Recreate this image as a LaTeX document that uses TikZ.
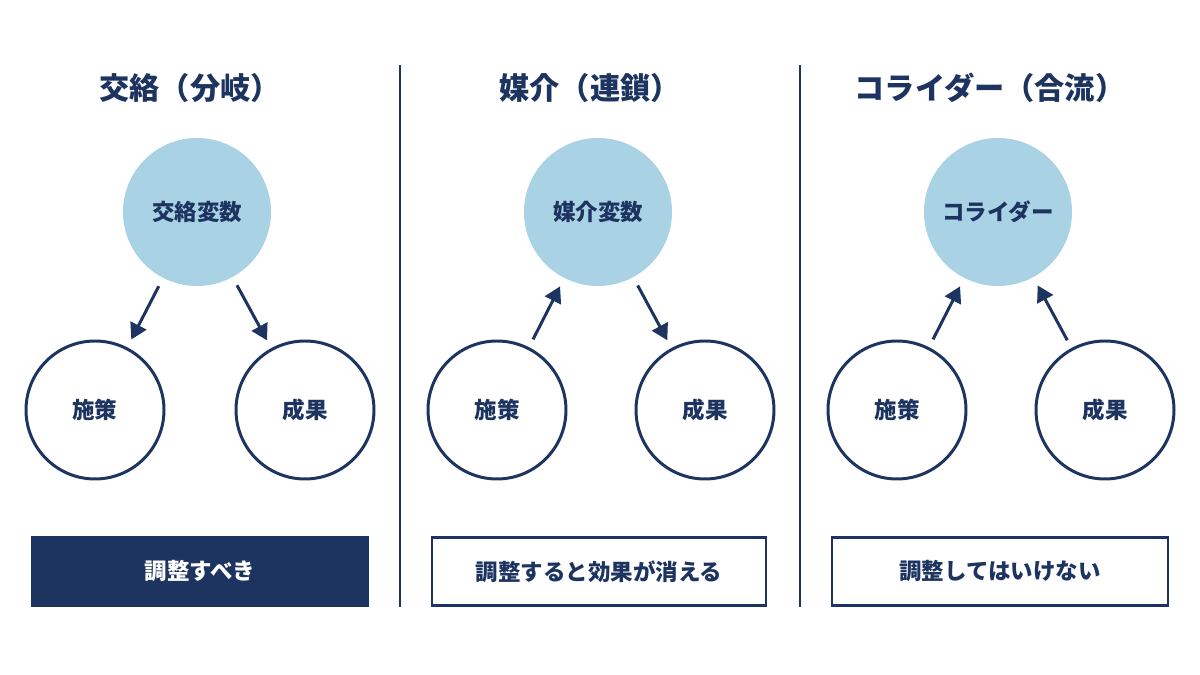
\documentclass[tikz,border=0pt]{standalone}
\usepackage{fontspec}
\setmainfont{Noto Sans CJK JP}
\usetikzlibrary{arrows.meta}
\definecolor{navy}{HTML}{1D3461}
\definecolor{paleblue}{HTML}{A9D3E5}
\tikzset{
  title/.style={font=\bfseries\fontsize{8.6}{10}\selectfont,text=navy},
  hub/.style={circle,fill=paleblue,minimum size=1.48cm,inner sep=0pt,font=\bfseries\fontsize{6.4}{8}\selectfont,text=navy},
  var/.style={circle,draw=navy,line width=0.85pt,fill=white,minimum size=1.38cm,inner sep=0pt,font=\bfseries\fontsize{6.4}{8}\selectfont,text=navy},
  link/.style={navy,line width=0.85pt,-{Triangle[length=4.5pt,width=5pt]},shorten <=2.5pt,shorten >=2.5pt},
  verdict/.style={draw=navy,line width=0.85pt,minimum width=3.36cm,minimum height=0.68cm,inner sep=0pt,font=\bfseries\fontsize{6.4}{8}\selectfont,text=navy},
}
\begin{document}
\begin{tikzpicture}[x=1cm,y=1cm]
    \useasboundingbox[fill=white] (0,0) rectangle (12,6.75);

    % dividers
    \coordinate (d1top) at (4,6.1);  \coordinate (d1bot) at (4,0.68);
    \coordinate (d2top) at (8,6.1);  \coordinate (d2bot) at (8,0.68);
    \draw[navy,line width=0.6pt] (d1top) -- (d1bot);
    \draw[navy,line width=0.6pt] (d2top) -- (d2bot);

    % confounder
    \node[title] (t1) at (1.9,5.87) {交絡（分岐）};
    \node[hub] (c1) at (1.97,4.63) {交絡変数};
    \node[var] (a1) at (0.95,2.65) {施策};
    \node[var] (b1) at (3.05,2.65) {成果};
    \draw[link] (c1) -- (a1);
    \draw[link] (c1) -- (b1);
    \node[verdict,fill=navy,text=white] (v1) at (2.0,1.035) {調整すべき};

    % mediator
    \node[title] (t2) at (5.9,5.87) {媒介（連鎖）};
    \node[hub] (c2) at (5.98,4.63) {媒介変数};
    \node[var] (a2) at (4.97,2.65) {施策};
    \node[var] (b2) at (7.05,2.65) {成果};
    \draw[link] (a2) -- (c2);
    \draw[link] (c2) -- (b2);
    \node[verdict,minimum width=3.34cm] (v2) at (5.99,1.035) {調整すると効果が消える};

    % collider
    \node[title] (t3) at (9.9,5.87) {コライダー（合流）};
    \node[hub] (c3) at (9.98,4.63) {コライダー};
    \node[var] (a3) at (8.97,2.65) {施策};
    \node[var] (b3) at (11.05,2.65) {成果};
    \draw[link] (a3) -- (c3);
    \draw[link] (b3) -- (c3);
    \node[verdict] (v3) at (10.0,1.035) {調整してはいけない};
\end{tikzpicture}
\end{document}
